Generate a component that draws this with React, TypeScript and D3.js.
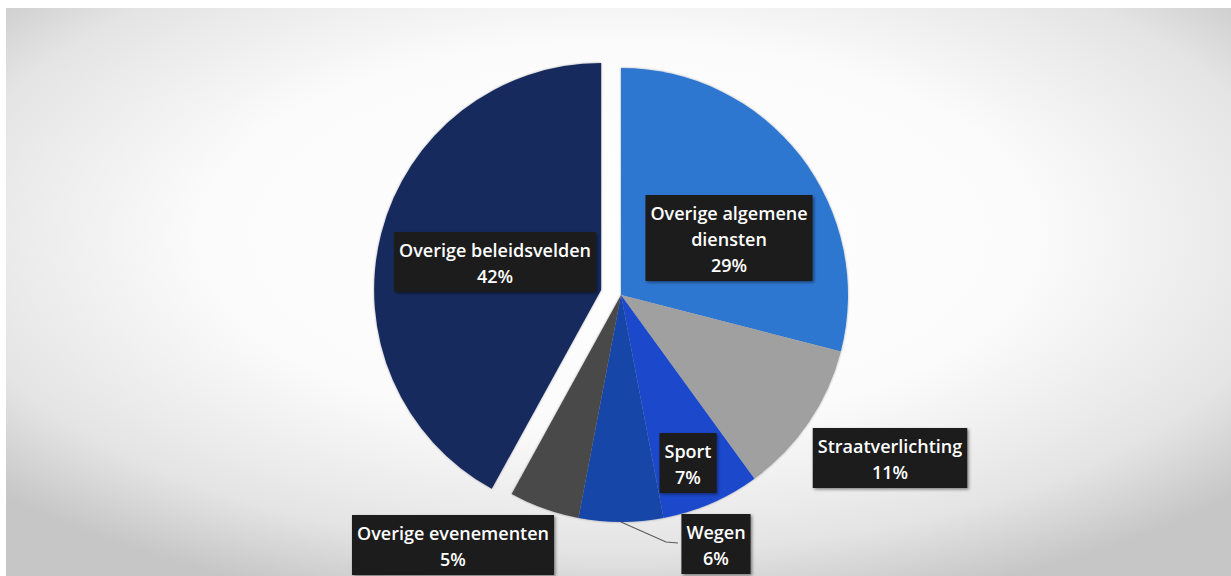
import { useEffect, useRef } from 'react'
import * as d3 from 'd3'

// slices, clockwise from 12 o'clock
const categories = [
  'Overige algemene diensten',
  'Straatverlichting',
  'Sport',
  'Wegen',
  'Overige evenementen',
  'Overige beleidsvelden',
]
const shares = [29, 11, 7, 6, 5, 42]
const labelLines = [
  ['Overige algemene', 'diensten'],
  ['Straatverlichting'],
  ['Sport'],
  ['Wegen'],
  ['Overige evenementen'],
  ['Overige beleidsvelden'],
]
const sliceColors = ['#2f77d1', '#a0a0a0', '#1f4acc', '#1946a8', '#4a4949', '#19295d']
const exploded = [false, false, false, false, false, true]

// label box centres relative to pie centre
const labelOffsets: [number, number][] = [
  [108, -57],
  [269, 163],
  [67, 168],
  [95, 249],
  [-168, 250],
  [-126, -33],
]

export default function App() {
  const svgRef = useRef<SVGSVGElement>(null)

  useEffect(() => {
    const width = 1231, height = 576
    const cx = 621, cy = 295, radius = 227, explode = 20.5

    const svg = d3.select(svgRef.current)
    svg.selectAll('*').remove()
    svg.attr('width', width).attr('height', height)

    const defs = svg.append('defs')
    const grad = defs.append('radialGradient')
      .attr('id', 'bg').attr('cx', 0.5).attr('cy', 0.4).attr('r', 0.68)
    grad.append('stop').attr('offset', '0%').attr('stop-color', '#ffffff')
    grad.append('stop').attr('offset', '50%').attr('stop-color', '#fbfbfb')
    grad.append('stop').attr('offset', '82%').attr('stop-color', '#e4e4e4')
    grad.append('stop').attr('offset', '100%').attr('stop-color', '#c6c6c6')

    const shadow = defs.append('filter').attr('id', 'shadow')
      .attr('x', '-10%').attr('y', '-10%').attr('width', '130%').attr('height', '140%')
    shadow.append('feDropShadow')
      .attr('dx', 1.5).attr('dy', 1.5).attr('stdDeviation', 1.5)
      .attr('flood-color', '#000').attr('flood-opacity', 0.45)

    const pieShadow = defs.append('filter').attr('id', 'pieShadow')
      .attr('x', '-5%').attr('y', '-5%').attr('width', '110%').attr('height', '110%')
    pieShadow.append('feDropShadow')
      .attr('dx', 0).attr('dy', 0).attr('stdDeviation', 1.2)
      .attr('flood-color', '#000').attr('flood-opacity', 0.35)

    svg.append('rect').attr('width', width).attr('height', height).attr('fill', '#ffffff')
    svg.append('rect')
      .attr('x', 6).attr('y', 8).attr('width', width - 6).attr('height', height - 8)
      .attr('fill', 'url(#bg)')

    const data = categories.map((c, i) => ({ name: c, value: shares[i], i }))
    const pie = d3.pie<typeof data[0]>().value(d => d.value).sort(null)
    const arc = d3.arc<d3.PieArcDatum<typeof data[0]>>().innerRadius(0).outerRadius(radius)
    const arcs = pie(data)

    const g = svg.append('g').attr('transform', `translate(${cx},${cy})`)

    g.append('g').attr('filter', 'url(#pieShadow)')
      .selectAll('path')
      .data(arcs)
      .enter()
      .append('path')
      .attr('d', arc)
      .attr('fill', d => sliceColors[d.data.i])
      .attr('transform', d => {
        if (!exploded[d.data.i]) return null
        const mid = (d.startAngle + d.endAngle) / 2
        return `translate(${Math.sin(mid) * explode},${-Math.cos(mid) * explode})`
      })

    // leader line for Wegen
    const wegen = arcs[3]
    const wMid = (wegen.startAngle + wegen.endAngle) / 2
    const lx = Math.sin(wMid) * radius, ly = -Math.cos(wMid) * radius
    const [wox, woy] = labelOffsets[3]
    g.append('path')
      .attr('d', `M${lx},${ly}L${wox - 50},${woy - 2}L${wox - 38},${woy - 1}`)
      .attr('fill', 'none')
      .attr('stroke', '#5a5a5a')
      .attr('stroke-width', 1.2)

    const lineH = 26
    arcs.forEach(d => {
      const i = d.data.i
      const lines = [...labelLines[i], `${shares[i]}%`]
      const [ox, oy] = labelOffsets[i]
      const lg = g.append('g').attr('transform', `translate(${ox},${oy})`)
      const rect = lg.append('rect').attr('fill', '#1e1e1e').attr('filter', 'url(#shadow)')
      const h = lines.length * lineH + 8
      const text = lg.append('text')
        .attr('text-anchor', 'middle')
        .attr('fill', '#ffffff')
        .attr('font-family', '"Open Sans", sans-serif')
        .attr('font-weight', 600)
        .attr('font-size', 18)
      lines.forEach((t, k) => {
        text.append('tspan')
          .attr('x', 0)
          .attr('y', -h / 2 + 24.5 + k * lineH)
          .text(t)
      })
      const bb = (text.node() as SVGTextElement).getBBox()
      const w = bb.width + 10
      rect.attr('x', -w / 2).attr('y', -h / 2).attr('width', w).attr('height', h)
    })
  }, [])

  return (
    <div style={{ position: 'absolute', left: 0, top: 0 }}>
      <svg ref={svgRef} style={{ display: 'block' }} />
    </div>
  )
}
